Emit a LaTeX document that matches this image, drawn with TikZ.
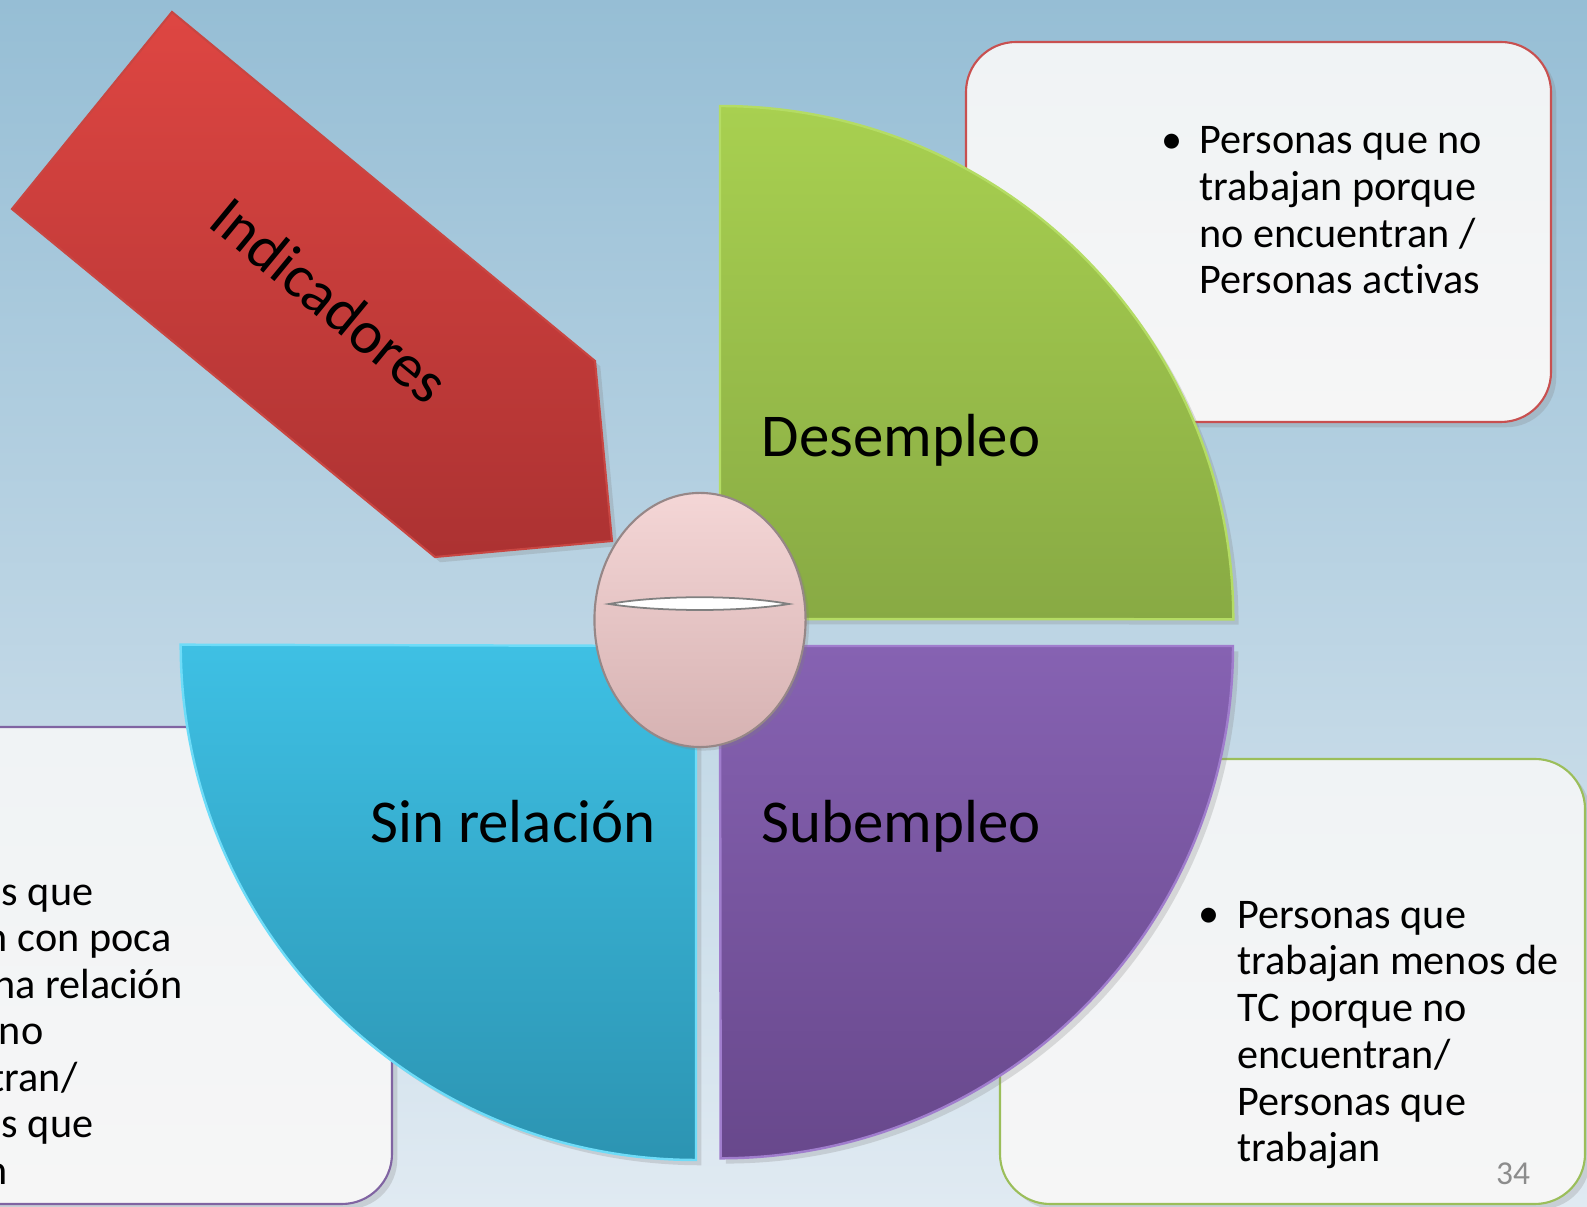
\documentclass[tikz,border=0pt]{standalone}
\usepackage{fontspec}
\setmainfont{Carlito}[Ligatures=NoCommon]
\usetikzlibrary{shadows,shapes.geometric}
\definecolor{bgtop}{RGB}{150,190,213}
\definecolor{bgbot}{RGB}{224,234,242}
\definecolor{boxtop}{RGB}{240,243,245}
\definecolor{boxbot}{RGB}{246,246,246}
\definecolor{boxred}{RGB}{200,80,80}
\definecolor{boxgreen}{RGB}{155,190,90}
\definecolor{boxpurple}{RGB}{128,100,162}
\definecolor{greentop}{RGB}{168,208,80}
\definecolor{greenbot}{RGB}{136,170,68}
\definecolor{greenedge}{RGB}{180,220,100}
\definecolor{purptop}{RGB}{134,98,178}
\definecolor{purpbot}{RGB}{104,72,140}
\definecolor{purpedge}{RGB}{160,125,205}
\definecolor{bluetop}{RGB}{62,192,228}
\definecolor{bluebot}{RGB}{44,148,178}
\definecolor{blueedge}{RGB}{110,220,248}
\definecolor{redtop}{RGB}{222,70,66}
\definecolor{redbot}{RGB}{172,50,50}
\definecolor{rededge}{RGB}{200,70,66}
\definecolor{pinktop}{RGB}{244,214,214}
\definecolor{pinkbot}{RGB}{214,178,178}
\definecolor{pinkedge}{RGB}{150,135,135}
\definecolor{numgray}{RGB}{140,140,140}
\tikzset{
  infobox/.style={rounded corners=0.5cm, line width=0.6pt, top color=boxtop, bottom color=boxbot,
    drop shadow={opacity=0.25, shadow xshift=1.5pt, shadow yshift=-1.5pt}},
  quarter/.style={line width=0.7pt,
    drop shadow={opacity=0.25, shadow xshift=1.5pt, shadow yshift=-1.5pt}},
  biglabel/.style={font=\fontsize{17.3}{20}\selectfont, inner sep=0pt, text=black},
  bultext/.style={font=\fontsize{12}{13.3}\selectfont, align=left, inner sep=0pt, text=black},
  bulmark/.style={font=\fontsize{12}{13.3}\selectfont, inner sep=0pt, text=black},
}
\begin{document}
\begin{tikzpicture}[x=0.01cm,y=-0.01cm]
\useasboundingbox (0,0) rectangle (1587,1207);
\clip (0,0) rectangle (1587,1207);
\shade[top color=bgtop,bottom color=bgbot] (0,0) rectangle (1587,1207);

% info boxes
\path[infobox, draw=boxred] (966,42) rectangle (1551,422);
\path[infobox, draw=boxgreen] (1000,759) rectangle (1585,1204);
\path[infobox, draw=boxpurple] (-80,727) rectangle (392,1204);

% arrow
\path[draw=rededge, line width=0.6pt, top color=redtop, bottom color=redbot,
  drop shadow={opacity=0.25, shadow xshift=1.5pt, shadow yshift=-1.5pt}]
  (172,12) -- (595,361) -- (612,541) -- (435,557) -- (12,209) -- cycle;

% quarters
\path[quarter, draw=greenedge, top color=greentop, bottom color=greenbot]
  (720,619) -- (720,106) arc[start angle=90, end angle=0, radius=5.13cm] -- cycle;
\path[quarter, draw=purpedge, top color=purptop, bottom color=purpbot]
  (720,646) -- (1233,646) arc[start angle=0, end angle=-90, radius=5.12cm] -- cycle;
\path[quarter, draw=blueedge, top color=bluetop, bottom color=bluebot]
  (696,646) -- (696,1160) arc[start angle=-90, end angle=-180, radius=5.15cm] -- cycle;

% hub
\node[ellipse, draw=pinkedge, line width=0.6pt, top color=pinktop, bottom color=pinkbot,
  minimum width=2.11cm, minimum height=2.54cm, inner sep=0pt,
  drop shadow={opacity=0.25, shadow xshift=1pt, shadow yshift=-1pt}] (hub) at (700,620) {};
\path[draw=gray, line width=0.5pt, fill=white]
  (609,604) .. controls (660,595) and (740,595) .. (789,604)
  .. controls (740,612) and (660,612) .. (609,604) -- cycle;

% labels
\node[biglabel, anchor=base west] (des) at (761,457) {Desempleo};
\node[biglabel, anchor=base west] (sub) at (761,843) {Subempleo};
\node[biglabel, anchor=base west] (sin) at (370,843) {Sin relación};
\node[biglabel, rotate=-39.5] (ind) at (330,300) {Indicadores};

% top-right bullet (anchor = baseline of last line)
\node[bultext, anchor=base west] (trtext) at (1199,294)
  {Personas que no\\trabajan porque\\no encuentran /\\Personas activas};
\node[bulmark, anchor=base] (trbul) at (1172,154) {•};

% bottom-right bullet
\node[bultext, anchor=base west] (brtext) at (1237,1162)
  {Personas que\\trabajan menos de\\TC porque no\\encuentran/\\Personas que\\trabajan};
\node[bulmark, anchor=base] (brbul) at (1209,928) {•};

% bottom-left fragments
\node[bultext, anchor=base east] (bl1) at (94,906) {s que};
\node[bultext, anchor=base east] (bl2) at (172,952) {n con poca};
\node[bultext, anchor=base east] (bl3) at (183,999) {na relación};
\node[bultext, anchor=base east] (bl4) at (44,1045) {no};
\node[bultext, anchor=base east] (bl5) at (78,1092) {tran/};
\node[bultext, anchor=base east] (bl6) at (94,1138) {s que};
\node[bultext, anchor=base east] (bl7) at (8,1185) {n};

% page number
\node[font=\fontsize{9.5}{11}\selectfont, text=numgray, inner sep=0pt] (num) at (1513,1174) {34};
\end{tikzpicture}
\end{document}
